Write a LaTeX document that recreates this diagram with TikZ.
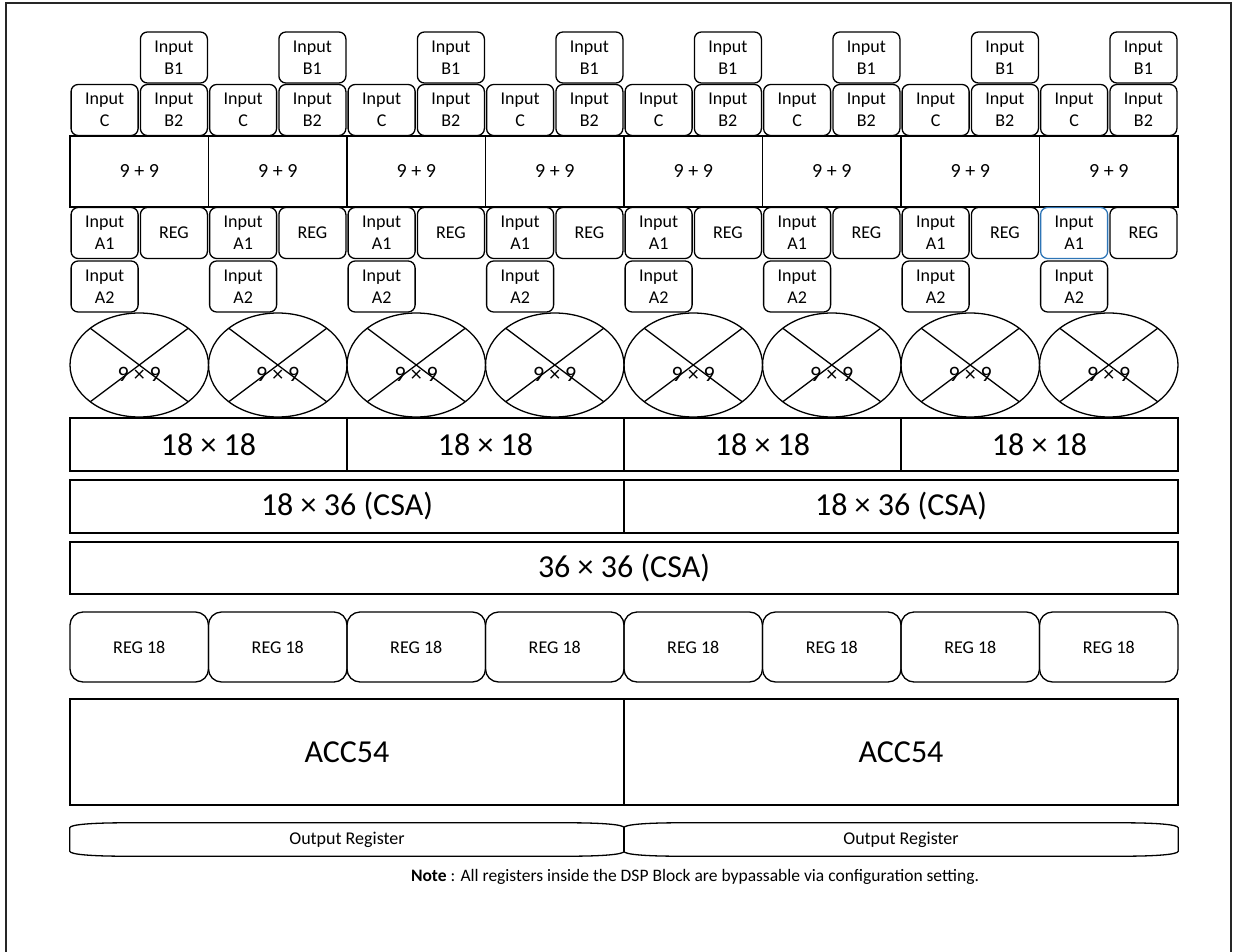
\documentclass[tikz,border=0pt]{standalone}
\usepackage{fontspec}
\setmainfont{Carlito}
\usetikzlibrary{shapes.geometric}

\definecolor{selblue}{RGB}{46,117,182}

\begin{document}
\begin{tikzpicture}[x=1pt, y=-1pt,
    % Box styles (inputs, adders, multipliers, registers)
    inbox/.style={draw=#1, line width=1.3pt, rounded corners=7pt, minimum width=67pt, minimum height=51pt, inner sep=0pt, align=center, font=\fontsize{18}{22}\selectfont},
    inbox/.default=black,
    addbox/.style={draw, line width=1.3pt, minimum width=138.5pt, minimum height=71pt, inner sep=0pt, font=\fontsize{20}{24}\selectfont},
    mulell/.style={draw, ellipse, line width=1.3pt, minimum width=138.5pt, minimum height=104pt, inner sep=0pt, outer sep=0pt},
    mullbl/.style={font=\fontsize{22}{26}\selectfont, inner sep=0pt},
    bigbox/.style={draw, line width=1.3pt, minimum width=#1, minimum height=53pt, inner sep=0pt, font=\fontsize{32}{38}\selectfont},
    regbox/.style={draw, line width=1.3pt, rounded corners=13pt, minimum width=138.5pt, minimum height=70pt, inner sep=0pt, font=\fontsize{18}{22}\selectfont},
    accbox/.style={draw, line width=1.3pt, minimum width=554pt, minimum height=106pt, inner sep=0pt, font=\fontsize{32}{38}\selectfont},
    outbox/.style={minimum width=554pt, minimum height=33pt, inner sep=0pt, font=\fontsize{18}{21}\selectfont},
    outline/.style={line width=1.3pt}
]
\useasboundingbox (0,0) rectangle (1233,952);

% ---------------------------------------------------------
% 1. FRAME
% ---------------------------------------------------------
\draw[line width=1.2pt, black!85] (6,952) -- (6,3) -- (1231,3) -- (1231,952);

% ---------------------------------------------------------
% 2. EIGHT 9x9 SLICES (inputs, pre-adder, multiplier)
% ---------------------------------------------------------
\foreach \i/\acol in {0/black, 1/black, 2/black, 3/black, 4/black, 5/black, 6/black, 7/selblue} {
    \pgfmathsetmacro{\xl}{70+138.5*\i}
    \node[inbox] (inb1-\i) at (\xl+103.9, 57.5) {Input\\B1};
    \node[inbox] (inc-\i)  at (\xl+34.6, 110) {Input\\C};
    \node[inbox] (inb2-\i) at (\xl+103.9, 110) {Input\\B2};
    \node[addbox] (add-\i) at (\xl+69.25, 171.5) {9 + 9};
    \node[inbox=\acol] (ina1-\i) at (\xl+34.6, 233) {Input\\A1};
    \node[inbox] (reg-\i)  at (\xl+103.9, 233) {REG};
    \node[inbox] (ina2-\i) at (\xl+34.6, 286.5) {Input\\A2};
    % multiplier with cross
    \node[mulell] (mul-\i) at (\xl+69.25, 365) {};
    \draw[outline] (mul-\i.north west) -- (mul-\i.south east);
    \draw[outline] (mul-\i.north east) -- (mul-\i.south west);
    \node[mullbl] (mullbl-\i) at ([yshift=-9pt]mul-\i.center) {9 × 9};
}

% ---------------------------------------------------------
% 3. COMBINING STAGES
% ---------------------------------------------------------
\foreach \j in {0,...,3}
    \node[bigbox=277pt] (m18-\j) at (70+277*\j+138.5, 444.5) {18 × 18};

\node[bigbox=554pt] (csa1) at (347, 506.5) {18 × 36 (CSA)};
\node[bigbox=554pt] (csa2) at (901, 506.5) {18 × 36 (CSA)};

\node[bigbox=1108pt, minimum height=52pt] (csa36) at (624, 568) {36 × 36 (CSA)};

% ---------------------------------------------------------
% 4. REGISTERS, ACCUMULATORS, OUTPUT
% ---------------------------------------------------------
\foreach \i in {0,...,7}
    \node[regbox] (reg18-\i) at (70+138.5*\i+69.25, 647) {REG 18};

\node[accbox] (acc1) at (347, 752) {ACC54};
\node[accbox] (acc2) at (901, 752) {ACC54};

\node[outbox] (out1) at (347, 839.5) {Output Register};
\node[outbox] (out2) at (901, 839.5) {Output Register};

\foreach \o in {out1, out2}
    \draw[outline] ([yshift=-5pt]\o.north west)
        .. controls ([yshift=-1.5pt]\o.north west) and ([xshift=25pt]\o.north west) .. ([xshift=55pt]\o.north west)
        -- ([xshift=-55pt]\o.north east)
        .. controls ([xshift=-25pt]\o.north east) and ([yshift=-1.5pt]\o.north east) .. ([yshift=-5pt]\o.north east)
        -- ([yshift=5pt]\o.south east)
        .. controls ([yshift=1.5pt]\o.south east) and ([xshift=-25pt]\o.south east) .. ([xshift=-55pt]\o.south east)
        -- ([xshift=55pt]\o.south west)
        .. controls ([xshift=25pt]\o.south west) and ([yshift=1.5pt]\o.south west) .. ([yshift=5pt]\o.south west)
        -- cycle;

% Note
\node[font=\fontsize{17.5}{21}\selectfont] (note) at (695, 877)
    {\textbf{Note} : All registers inside the DSP Block are bypassable via configuration setting.};

\end{tikzpicture}
\end{document}
